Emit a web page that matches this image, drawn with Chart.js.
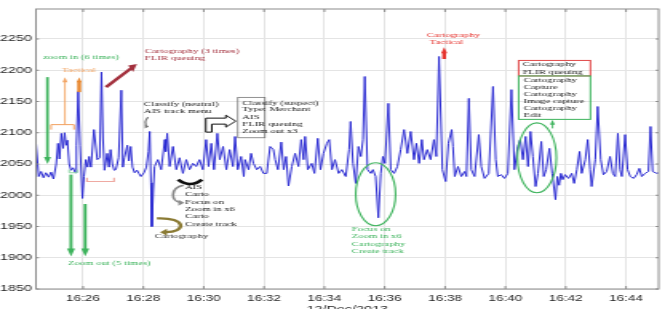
<!DOCTYPE html>
<html>
<head>
<meta charset="utf-8">
<script src="https://cdn.jsdelivr.net/npm/chart.js@4.4.0/dist/chart.umd.min.js"></script>
<style>
  html, body { margin: 0; padding: 0; background: #fff; overflow: hidden; width: 665px; height: 309px; }
  #wrap { width: 416px; height: 320px; transform: scaleX(1.5986); transform-origin: 0 0; }
</style>
</head>
<body>
<div id="wrap"><canvas id="grafico" width="416" height="320"></canvas></div>
<script>
// time in minutes after 16:00, signal
const tempi = [
  24.44, 24.53, 24.61, 24.69, 24.77, 24.86, 24.94, 25.02, 25.11, 25.17,
  25.22, 25.28, 25.34, 25.39, 25.44, 25.48, 25.54, 25.60, 25.67, 25.74,
  25.78, 25.84, 25.90, 25.98, 26.03, 26.09, 26.15, 26.20, 26.26, 26.36,
  26.47, 26.55, 26.61, 26.66, 26.71, 26.80, 26.86, 26.91, 26.97, 27.03,
  27.09, 27.18, 27.27, 27.32, 27.37, 27.47, 27.52, 27.58, 27.64, 27.71,
  27.79, 27.85, 27.92, 28.02, 28.10, 28.17, 28.21, 28.25, 28.28, 28.33,
  28.37, 28.48, 28.59, 28.71, 28.74, 28.79, 28.87, 28.98, 29.09, 29.20,
  29.31, 29.42, 29.53, 29.64, 29.75, 29.86, 29.97, 30.08, 30.16, 30.25,
  30.34, 30.45, 30.53, 30.64, 30.75, 30.86, 30.97, 31.04, 31.13, 31.24,
  31.33, 31.37, 31.49, 31.57, 31.65, 31.76, 31.87, 31.98, 32.09, 32.20,
  32.31, 32.37, 32.46, 32.57, 32.65, 32.73, 32.81, 32.92, 33.03, 33.14,
  33.23, 33.31, 33.36, 33.45, 33.58, 33.67, 33.78, 33.87, 33.97, 34.08,
  34.16, 34.25, 34.35, 34.47, 34.58, 34.71, 34.82, 34.87, 34.95, 35.04,
  35.13, 35.21, 35.28, 35.34, 35.43, 35.54, 35.61, 35.70, 35.79, 35.87,
  35.94, 36.01, 36.12, 36.20, 36.31, 36.42, 36.53, 36.64, 36.75, 36.86,
  36.97, 37.05, 37.14, 37.23, 37.30, 37.41, 37.52, 37.63, 37.71, 37.80,
  37.91, 38.02, 38.11, 38.22, 38.26, 38.32, 38.43, 38.54, 38.65, 38.71,
  38.79, 38.87, 38.98, 39.12, 39.20, 39.31, 39.45, 39.59, 39.68, 39.75,
  39.86, 39.97, 40.08, 40.20, 40.30, 40.41, 40.49, 40.58, 40.67, 40.75,
  40.83, 40.91, 41.00, 41.08, 41.19, 41.27, 41.35, 41.46, 41.55, 41.66,
  41.72, 41.78, 41.84, 41.90, 41.98, 42.09, 42.20, 42.28, 42.37, 42.46,
  42.53, 42.65, 42.73, 42.81, 42.86, 42.98, 43.06, 43.16, 43.25, 43.36,
  43.47, 43.56, 43.64, 43.73, 43.80, 43.86, 43.97, 44.05, 44.14, 44.25,
  44.35, 44.44, 44.52, 44.63, 44.74, 44.81, 44.88, 45.02, 45.08
];
const valori = [
  2083, 2030, 2038, 2028, 2036, 2029, 2037, 2026, 2050, 2083,
  2058, 2099, 2075, 2100, 2080, 2088, 2050, 2040, 2044, 2036,
  2080, 2166, 2080, 1995, 2030, 2057, 2045, 2062, 2045, 2105,
  2057, 2060, 2197, 2090, 2040, 2067, 2045, 2073, 2050, 2040,
  2041, 2060, 2168, 2045, 2060, 2080, 2055, 2078, 2045, 2036,
  2040, 2035, 2030, 2036, 2045, 2070, 2102, 2020, 1950, 2010,
  2046, 2057, 2041, 2089, 2070, 2099, 2046, 2078, 2041, 2060,
  2035, 2057, 2041, 2051, 2046, 2057, 2041, 2089, 2046, 2083,
  2041, 2099, 2057, 2078, 2041, 2073, 2046, 2094, 2041, 2062,
  2030, 2057, 2041, 2067, 2051, 2041, 2046, 2035, 2035, 2078,
  2073, 2057, 2041, 2085, 2041, 2062, 2015, 2046, 2067, 2046,
  2089, 2057, 2094, 2041, 2051, 2035, 2091, 2041, 2067, 2083,
  2089, 2041, 2057, 2035, 2041, 2030, 2073, 2118, 2051, 2019,
  2078, 2062, 2089, 2190, 2041, 2035, 2041, 2030, 1964, 2035,
  2062, 2051, 2147, 2041, 2035, 2046, 2073, 2105, 2067, 2102,
  2057, 2083, 2051, 2089, 2057, 2073, 2057, 2089, 2062, 2222,
  2041, 2022, 2083, 2105, 2078, 2030, 2046, 2030, 2038, 2030,
  2155, 2041, 2030, 2097, 2046, 2027, 2035, 2174, 2057, 2030,
  2033, 2027, 2035, 2169, 2041, 2078, 2089, 2057, 2094, 2046,
  2102, 2062, 2014, 2035, 2086, 2030, 2041, 2075, 2035, 1993,
  2030, 2016, 2035, 2025, 2033, 2027, 2035, 2019, 2041, 2070,
  2035, 2057, 2089, 2041, 2014, 2057, 2142, 2057, 2033, 2038,
  2062, 2035, 2030, 2099, 2041, 2030, 2097, 2041, 2030, 2027,
  2033, 2043, 2030, 2035, 2038, 2110, 2038, 2035, 2036
];
const tickMinuti = [26, 28, 30, 32, 34, 36, 38, 40, 42, 44];
const tickValori = [1850, 1900, 1950, 2000, 2050, 2100, 2150, 2200, 2250];
const etichettaAsse = "12/Dec/2013";

// the picture is stretched sideways, the canvas is drawn narrow and widened by css
const S = 665 / 416;
const VERDE = "#3db35c";
const ARANCIO = "#f2a15e";

function scrivi(ctx, testo, x, y, colore) {
  ctx.font = '6.7px "Liberation Serif"';
  ctx.fillStyle = colore;
  ctx.textAlign = "left";
  ctx.textBaseline = "middle";
  ctx.fillText(testo, x, y);
}

function linea(ctx, punti, colore, spessore) {
  ctx.beginPath();
  ctx.moveTo(punti[0][0], punti[0][1]);
  for (let i = 1; i < punti.length; i++) ctx.lineTo(punti[i][0], punti[i][1]);
  ctx.strokeStyle = colore;
  ctx.lineWidth = spessore;
  ctx.stroke();
}

function testaFreccia(ctx, x2, y2, a, colore, lunga) {
  // a is the direction in screen space
  let bx = x2 * S - lunga * Math.cos(a);
  let by = y2 - lunga * Math.sin(a);
  let hw = lunga * 0.5;
  ctx.beginPath();
  ctx.moveTo(x2, y2);
  ctx.lineTo((bx + hw * Math.sin(a)) / S, by - hw * Math.cos(a));
  ctx.lineTo((bx - hw * Math.sin(a)) / S, by + hw * Math.cos(a));
  ctx.closePath();
  ctx.fillStyle = colore;
  ctx.fill();
}

function freccia(ctx, x1, y1, x2, y2, colore, spessore, lunga) {
  let a = Math.atan2(y2 - y1, (x2 - x1) * S);
  let bx = (x2 * S - lunga * 0.8 * Math.cos(a)) / S;
  let by = y2 - lunga * 0.8 * Math.sin(a);
  linea(ctx, [[x1, y1], [bx, by]], colore, spessore);
  testaFreccia(ctx, x2, y2, a, colore, lunga);
}

const notePlugin = {
  id: "note",
  afterDatasetsDraw(chart) {
    const ctx = chart.ctx;
    const X = (t) => chart.scales.x.getPixelForValue(t);
    const Y = (v) => chart.scales.y.getPixelForValue(v);
    ctx.save();

    // zoom in / tactical, left side
    scrivi(ctx, "zoom in (6 times)", X(24.68), Y(2221), VERDE);
    freccia(ctx, X(24.82), Y(2189), X(24.82), Y(2050), VERDE, 1.7, 7);
    scrivi(ctx, "Tactical", X(25.30), Y(2200), ARANCIO);
    linea(ctx, [[X(24.94), Y(2105)], [X(24.94), Y(2113)], [X(25.70), Y(2113)], [X(25.70), Y(2105)]], ARANCIO, 1);
    freccia(ctx, X(25.40), Y(2113), X(25.40), Y(2189), ARANCIO, 0.9, 5);
    freccia(ctx, X(25.87), Y(2165), X(25.87), Y(2189), "#e8862c", 2.4, 5);
    linea(ctx, [[X(25.54), Y(2041)], [X(25.54), Y(2036)], [X(25.80), Y(2036)], [X(25.80), Y(2041)]], "#8fd6a6", 1);
    linea(ctx, [[X(26.13), Y(2028)], [X(26.13), Y(2022)], [X(27.03), Y(2022)], [X(27.03), Y(2028)]], "#efaaa2", 1.2);

    // zoom out
    freccia(ctx, X(25.60), Y(2033), X(25.60), Y(1902), VERDE, 1.9, 8);
    freccia(ctx, X(26.07), Y(1986), X(26.07), Y(1902), VERDE, 1.9, 8);
    scrivi(ctx, "Zoom out (5 times)", X(25.50), Y(1892), VERDE);

    // cartography (3 times)
    freccia(ctx, X(26.76), Y(2173), X(27.79), Y(2210), "#a3303d", 2.4, 8);
    scrivi(ctx, "Cartography (3 times)", X(28.05), Y(2230), "#a3303d");
    scrivi(ctx, "FLIR queuing", X(28.05), Y(2219), "#a3303d");

    // classify (neutral)
    scrivi(ctx, "Classify (neutral)", X(28.02), Y(2145), "#222");
    scrivi(ctx, "AIS track menu", X(28.02), Y(2134), "#222");
    ctx.beginPath();
    ctx.moveTo(X(28.16), Y(2125));
    ctx.quadraticCurveTo(X(27.98), Y(2117), X(28.14), Y(2109));
    ctx.strokeStyle = "#777";
    ctx.lineWidth = 1.2;
    ctx.stroke();
    testaFreccia(ctx, X(28.18), Y(2110), 0, "#777", 4);

    // hollow bent arrow
    let ax = X(30.07), ay = Y(2101);
    let forma = [[0, 0], [0, -14], [20, -14], [20, -17], [30, -11], [20, -5], [20, -8], [6, -8], [6, 0]];
    ctx.beginPath();
    forma.forEach((p, i) => {
      if (i === 0) ctx.moveTo(ax + p[0] / S, ay + p[1]);
      else ctx.lineTo(ax + p[0] / S, ay + p[1]);
    });
    ctx.closePath();
    ctx.fillStyle = "#fff";
    ctx.fill();
    ctx.strokeStyle = "#111";
    ctx.lineWidth = 1;
    ctx.stroke();

    // classify (suspect) box
    ctx.strokeStyle = "#777";
    ctx.lineWidth = 0.8;
    ctx.strokeRect(X(31.13), Y(2156.6), X(32.03) - X(31.13), Y(2092) - Y(2156.6));
    let righe = ["Classify (suspect)", "Type: Merchant", "AIS", "FLIR queuing", "Zoom out x3"];
    let yRighe = [2148, 2137, 2125, 2114, 2103];
    righe.forEach((r, i) => scrivi(ctx, r, X(31.28), Y(yRighe[i]), "#222"));

    // AIS block
    ctx.beginPath();
    ctx.moveTo(X(29.15), Y(2025));
    ctx.quadraticCurveTo(X(29.55), Y(2011), X(29.94), Y(2025));
    ctx.strokeStyle = "#111";
    ctx.lineWidth = 2.6;
    ctx.stroke();
    ctx.beginPath();
    ctx.moveTo(X(29.33), Y(2016));
    ctx.bezierCurveTo(X(28.88), Y(2012), X(28.88), Y(1990), X(29.26), Y(1988));
    ctx.strokeStyle = "#8a8a8a";
    ctx.lineWidth = 1.6;
    ctx.stroke();
    testaFreccia(ctx, X(29.36), Y(1988), 0, "#8a8a8a", 6);
    righe = ["AIS", "Carto", "Focus on", "Zoom in x6", "Carto", "Create track"];
    yRighe = [2013.6, 2001.6, 1989.6, 1977.6, 1965.7, 1953.7];
    righe.forEach((r, i) => scrivi(ctx, r, X(29.38), Y(yRighe[i]), "#222"));

    ctx.beginPath();
    ctx.moveTo(X(28.45), Y(1963));
    ctx.bezierCurveTo(X(29.45), Y(1965), X(29.45), Y(1940), X(28.70), Y(1941));
    ctx.strokeStyle = "#8b7b35";
    ctx.lineWidth = 2.3;
    ctx.stroke();
    testaFreccia(ctx, X(28.55), Y(1941), Math.PI, "#8b7b35", 7);
    scrivi(ctx, "Cartography", X(28.38), Y(1935), "#333");

    // tactical peak
    scrivi(ctx, "Cartography", X(37.39), Y(2255.6), "#e5322d");
    scrivi(ctx, "Tactical", X(37.49), Y(2245), "#e5322d");
    freccia(ctx, X(37.97), Y(2218), X(37.97), Y(2237), "#e5322d", 2.4, 6);

    // focus on, 16:36
    ctx.beginPath();
    ctx.ellipse((X(35.04) + X(36.36)) / 2, (Y(2051.9) + Y(1951.3)) / 2,
      (X(36.36) - X(35.04)) / 2, (Y(1951.3) - Y(2051.9)) / 2, 0, 0, Math.PI * 2);
    ctx.strokeStyle = VERDE;
    ctx.lineWidth = 1.1;
    ctx.stroke();
    righe = ["Focus on", "Zoom in x6", "Cartography", "Create track"];
    yRighe = [1945.7, 1933.7, 1921.7, 1909.8];
    righe.forEach((r, i) => scrivi(ctx, r, X(34.91), Y(yRighe[i]), VERDE));

    // boxes at 16:41
    ctx.strokeStyle = "#e04848";
    ctx.lineWidth = 1;
    ctx.strokeRect(X(40.44), Y(2215.7), X(42.82) - X(40.44), Y(2190.9) - Y(2215.7));
    scrivi(ctx, "Cartography", X(40.57), Y(2209), "#222");
    scrivi(ctx, "FLIR queuing", X(40.57), Y(2197), "#222");
    ctx.strokeStyle = VERDE;
    ctx.strokeRect(X(40.44), Y(2190.9), X(42.82) - X(40.44), Y(2121.4) - Y(2190.9));
    righe = ["Cartography", "Capture", "Cartography", "Image capture", "Cartography", "Edit"];
    yRighe = [2184.5, 2173.3, 2162.1, 2151, 2139.8, 2128.6];
    righe.forEach((r, i) => scrivi(ctx, r, X(40.60), Y(yRighe[i]), "#222"));
    freccia(ctx, X(41.56), Y(2107), X(41.56), Y(2121), VERDE, 0.9, 5);
    ctx.beginPath();
    ctx.ellipse((X(40.40) + X(41.69)) / 2, (Y(2115.8) + Y(2004)) / 2,
      (X(41.69) - X(40.40)) / 2, (Y(2004) - Y(2115.8)) / 2, 0, 0, Math.PI * 2);
    ctx.strokeStyle = VERDE;
    ctx.lineWidth = 1.1;
    ctx.stroke();

    ctx.restore();
  },
  afterDraw(chart) {
    // axes box with inward ticks
    const ctx = chart.ctx;
    const a = chart.chartArea;
    const X = (t) => chart.scales.x.getPixelForValue(t);
    const Y = (v) => chart.scales.y.getPixelForValue(v);
    ctx.save();
    ctx.strokeStyle = "#8c8c8c";
    ctx.lineWidth = 1;
    ctx.strokeRect(a.left, a.top, a.right - a.left, a.bottom - a.top);
    ctx.beginPath();
    tickMinuti.forEach((m) => {
      ctx.moveTo(X(m), a.bottom); ctx.lineTo(X(m), a.bottom - 3);
      ctx.moveTo(X(m), a.top); ctx.lineTo(X(m), a.top + 3);
    });
    tickValori.forEach((v) => {
      ctx.moveTo(a.left, Y(v)); ctx.lineTo(a.left + 3 / S, Y(v));
      ctx.moveTo(a.right, Y(v)); ctx.lineTo(a.right - 3 / S, Y(v));
    });
    ctx.stroke();
    ctx.restore();
  }
};

function generaGrafico() {
  let ctx = document.getElementById("grafico").getContext("2d");
  let punti = tempi.map((t, i) => ({ x: t, y: valori[i] }));
  new Chart(ctx, {
    type: "line",
    data: {
      datasets: [{
        data: punti,
        borderColor: "#2b2bd2",
        borderWidth: 1,
        pointRadius: 0,
        tension: 0,
        fill: false
      }]
    },
    options: {
      responsive: false,
      animation: false,
      devicePixelRatio: 1,
      layout: { padding: { left: 0, right: 4, top: 9, bottom: 0 } },
      plugins: { legend: { display: false }, tooltip: { enabled: false } },
      scales: {
        x: {
          type: "linear",
          min: 24.44,
          max: 45.08,
          afterBuildTicks: (s) => { s.ticks = tickMinuti.map((v) => ({ value: v })); },
          afterFit: (s) => { s.height = 31; },
          grid: { color: "#e4e4e4", drawTicks: false },
          border: { display: false },
          ticks: {
            padding: 5,
            maxRotation: 0,
            autoSkip: false,
            color: "#262626",
            font: { family: "Liberation Sans", size: 8.5 },
            callback: (v) => "16:" + String(v).padStart(2, "0")
          },
          title: {
            display: true,
            text: etichettaAsse,
            color: "#262626",
            font: { family: "Liberation Sans", size: 9 },
            padding: { top: 0, bottom: 4.6 }
          }
        },
        y: {
          min: 1850,
          max: 2298,
          afterBuildTicks: (s) => { s.ticks = tickValori.map((v) => ({ value: v })); },
          afterFit: (s) => { s.width = 22.5; },
          grid: { color: "#e4e4e4", drawTicks: false },
          border: { display: false },
          ticks: {
            padding: 2.5,
            color: "#262626",
            font: { family: "Liberation Sans", size: 9 },
            callback: (v) => String(v)
          }
        }
      }
    },
    plugins: [notePlugin]
  });
}

generaGrafico();
</script>
</body>
</html>
